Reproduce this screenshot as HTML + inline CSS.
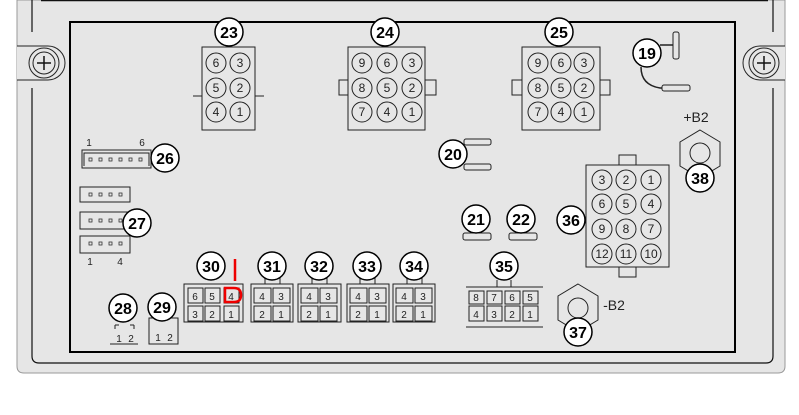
<!DOCTYPE html>
<html><head><meta charset="utf-8"><style>html,body{margin:0;padding:0;background:#fff}svg{display:block}text{font-family:"Liberation Sans",sans-serif}</style></head><body>
<svg width="799" height="415" viewBox="0 0 799 415" xmlns="http://www.w3.org/2000/svg">
<defs>
<g id="pin"><circle r="10" fill="none" stroke="#222" stroke-width="1"/></g>
<rect id="dot" width="3" height="3" fill="none" stroke="#333" stroke-width="0.8"/>
</defs>
<path d="M17 0 H785 V366 Q785 373 778 373 H24 Q17 373 17 366 Z" fill="#e6e6e6" stroke="#999" stroke-width="1"/>
<line x1="41" y1="0.5" x2="768" y2="0.5" stroke="#111" stroke-width="1.5"/>
<path d="M32 0 V32 M32 88 V356 Q32 363 39 363 H766 Q773 363 773 356 V88 M773 32 V0" fill="none" stroke="#111" stroke-width="1.2"/>
<path d="M17 46 H48 A17 17 0 0 1 48 80 H17" fill="#e6e6e6" stroke="#222"/>
<circle cx="44" cy="63" r="15" fill="none" stroke="#222"/><circle cx="44" cy="63" r="11" fill="none" stroke="#222"/>
<path d="M37 63 H51 M44 56 V70" stroke="#111" stroke-width="1.5"/>
<path d="M785 46 H760 A17 17 0 0 0 760 80 H785" fill="#e6e6e6" stroke="#222"/>
<circle cx="764" cy="63" r="15" fill="none" stroke="#222"/><circle cx="764" cy="63" r="11" fill="none" stroke="#222"/>
<path d="M757 63 H771 M764 56 V70" stroke="#111" stroke-width="1.5"/>
<rect x="70" y="22" width="665" height="330" fill="#e6e6e6" stroke="#000" stroke-width="2"/>

<g fill="none" stroke="#222" stroke-width="1">
<rect x="202" y="47" width="53" height="83"/>
<path d="M193 96 H202 M255 96 H264"/>
<rect x="348" y="47" width="77" height="83"/>
<rect x="339" y="80" width="9" height="15"/><rect x="425" y="80" width="11" height="15"/>
<rect x="522" y="47" width="78" height="83"/>
<rect x="512" y="80" width="10" height="15"/><rect x="600" y="80" width="10" height="15"/>
<rect x="586" y="165" width="83" height="102"/>
<rect x="619" y="155" width="17" height="10"/><rect x="619" y="267" width="17" height="10"/>
<polygon points="700,130 720,142 720,166 700,178 680,166 680,142"/><circle cx="700" cy="153" r="10"/>
<polygon points="578,284 598,296 598,320 578,332 558,320 558,296"/><circle cx="578" cy="308" r="10"/>
<rect x="82" y="150" width="69" height="18"/><path d="M84 166 V153 H149 V166"/>
<rect x="80" y="187" width="50" height="15"/><rect x="80" y="212" width="50" height="17"/><rect x="80" y="236" width="50" height="17"/>
<rect x="464" y="139" width="27" height="6" rx="2"/><rect x="464" y="164" width="27" height="6" rx="2"/>
<rect x="463" y="233" width="28" height="7" rx="2"/><rect x="509" y="233" width="28" height="7" rx="2"/>
<rect x="673" y="32" width="6" height="27" rx="2"/><rect x="662" y="85" width="28" height="6" rx="2"/>
<path d="M660 45 H673 M641 67 Q641 85 660 88 H662" stroke-width="1.5"/>
<rect x="184" y="284" width="59" height="38"/>
<rect x="188" y="288" width="15" height="15"/><rect x="205" y="288" width="15" height="15"/><rect x="224" y="288" width="15" height="15"/>
<rect x="188" y="306" width="15" height="15"/><rect x="205" y="306" width="15" height="15"/><rect x="224" y="306" width="15" height="15"/>
<rect x="251" y="284" width="42" height="38"/><rect x="298" y="284" width="43" height="38"/><rect x="347" y="284" width="42" height="38"/><rect x="393" y="284" width="42" height="38"/>
<path d="M254 288h17v15h-17z M273 288h17v15h-17z M254 306h17v15h-17z M273 306h17v15h-17z"/>
<path d="M301 288h17v15h-17z M320 288h17v15h-17z M301 306h17v15h-17z M320 306h17v15h-17z"/>
<path d="M350 288h17v15h-17z M369 288h17v15h-17z M350 306h17v15h-17z M369 306h17v15h-17z"/>
<path d="M396 288h17v15h-17z M415 288h17v15h-17z M396 306h17v15h-17z M415 306h17v15h-17z"/>
<path d="M265 278v6 M280 278v6 M312 278v6 M327 278v6 M360 278v6 M375 278v6 M407 278v6 M422 278v6"/>
<path d="M466 287 H543 M466 327 H543"/>
<path d="M469 291h15v13h-15z M487 291h15v13h-15z M505 291h15v13h-15z M523 291h15v13h-15z M469 306h15v15h-15z M487 306h15v15h-15z M505 306h15v15h-15z M523 306h15v15h-15z"/>
<path d="M497 280v7 M511 280v7"/>
<path d="M110 344 H138 M115 325 v4 M115 325 h4 M130 325 h4 M134 325 v4"/>
<rect x="149" y="318" width="29" height="26"/>
</g>
<g>
<use href="#dot" x="89" y="158"/><use href="#dot" x="99" y="158"/><use href="#dot" x="109" y="158"/><use href="#dot" x="119" y="158"/><use href="#dot" x="129" y="158"/><use href="#dot" x="139" y="158"/>
<use href="#dot" x="89" y="193"/><use href="#dot" x="99" y="193"/><use href="#dot" x="109" y="193"/><use href="#dot" x="119" y="193"/>
<use href="#dot" x="89" y="219"/><use href="#dot" x="99" y="219"/><use href="#dot" x="109" y="219"/><use href="#dot" x="119" y="219"/>
<use href="#dot" x="89" y="242"/><use href="#dot" x="99" y="242"/><use href="#dot" x="109" y="242"/><use href="#dot" x="119" y="242"/>
</g>
<g>
<use href="#pin" x="216" y="63"/><use href="#pin" x="240" y="63"/><use href="#pin" x="216" y="88"/><use href="#pin" x="240" y="88"/><use href="#pin" x="216" y="112"/><use href="#pin" x="240" y="112"/>
<use href="#pin" x="362" y="63"/><use href="#pin" x="387" y="63"/><use href="#pin" x="412" y="63"/><use href="#pin" x="362" y="88"/><use href="#pin" x="387" y="88"/><use href="#pin" x="412" y="88"/><use href="#pin" x="362" y="112"/><use href="#pin" x="387" y="112"/><use href="#pin" x="412" y="112"/>
<use href="#pin" x="538" y="63"/><use href="#pin" x="561" y="63"/><use href="#pin" x="584" y="63"/><use href="#pin" x="538" y="88"/><use href="#pin" x="561" y="88"/><use href="#pin" x="584" y="88"/><use href="#pin" x="538" y="112"/><use href="#pin" x="561" y="112"/><use href="#pin" x="584" y="112"/>
<use href="#pin" x="602" y="180"/><use href="#pin" x="626" y="180"/><use href="#pin" x="651" y="180"/><use href="#pin" x="602" y="204"/><use href="#pin" x="626" y="204"/><use href="#pin" x="651" y="204"/><use href="#pin" x="602" y="229"/><use href="#pin" x="626" y="229"/><use href="#pin" x="651" y="229"/><use href="#pin" x="602" y="254"/><use href="#pin" x="626" y="254"/><use href="#pin" x="651" y="254"/>
</g>
<g font-size="12" fill="#222" text-anchor="middle">
<text x="216" y="67">6</text><text x="240" y="67">3</text><text x="216" y="92">5</text><text x="240" y="92">2</text><text x="216" y="116">4</text><text x="240" y="116">1</text>
<text x="362" y="67">9</text><text x="387" y="67">6</text><text x="412" y="67">3</text><text x="362" y="92">8</text><text x="387" y="92">5</text><text x="412" y="92">2</text><text x="362" y="116">7</text><text x="387" y="116">4</text><text x="412" y="116">1</text>
<text x="538" y="67">9</text><text x="561" y="67">6</text><text x="584" y="67">3</text><text x="538" y="92">8</text><text x="561" y="92">5</text><text x="584" y="92">2</text><text x="538" y="116">7</text><text x="561" y="116">4</text><text x="584" y="116">1</text>
<text x="602" y="184">3</text><text x="626" y="184">2</text><text x="651" y="184">1</text><text x="602" y="208">6</text><text x="626" y="208">5</text><text x="651" y="208">4</text><text x="602" y="233">9</text><text x="626" y="233">8</text><text x="651" y="233">7</text><text x="602" y="258">12</text><text x="626" y="258">11</text><text x="651" y="258">10</text>
</g>
<g font-size="10" fill="#222" text-anchor="middle">
<text x="195" y="300">6</text><text x="212" y="300">5</text><text x="231" y="300">4</text><text x="195" y="318">3</text><text x="212" y="318">2</text><text x="231" y="318">1</text>
<text x="262" y="300">4</text><text x="281" y="300">3</text><text x="262" y="318">2</text><text x="281" y="318">1</text>
<text x="309" y="300">4</text><text x="328" y="300">3</text><text x="309" y="318">2</text><text x="328" y="318">1</text>
<text x="358" y="300">4</text><text x="377" y="300">3</text><text x="358" y="318">2</text><text x="377" y="318">1</text>
<text x="404" y="300">4</text><text x="423" y="300">3</text><text x="404" y="318">2</text><text x="423" y="318">1</text>
<text x="476" y="301">8</text><text x="494" y="301">7</text><text x="512" y="301">6</text><text x="530" y="301">5</text>
<text x="476" y="318">4</text><text x="494" y="318">3</text><text x="512" y="318">2</text><text x="530" y="318">1</text>
<text x="119" y="342">1</text><text x="131" y="342">2</text><text x="158" y="341">1</text><text x="170" y="341">2</text>
<text x="89" y="146">1</text><text x="142" y="146">6</text><text x="90" y="265">1</text><text x="120" y="265">4</text>
</g>
<text x="696" y="122" font-size="14" fill="#222" text-anchor="middle">+B2</text>
<text x="614" y="310" font-size="14" fill="#222" text-anchor="middle">-B2</text>
<g font-size="16" font-weight="bold" text-anchor="middle" fill="#000">
<g stroke="#000" stroke-width="1.5" fill="#fff">
<circle cx="229" cy="32" r="14"/><circle cx="385" cy="32" r="14"/><circle cx="559" cy="32" r="14"/><circle cx="647" cy="53" r="14"/><circle cx="453" cy="154" r="14"/><circle cx="165" cy="158" r="14"/><circle cx="137" cy="223" r="14"/><circle cx="476" cy="219" r="14"/><circle cx="521" cy="219" r="14"/><circle cx="571" cy="220" r="14"/><circle cx="700" cy="178" r="14"/><circle cx="578" cy="332" r="14"/><circle cx="504" cy="266" r="14"/><circle cx="211" cy="266" r="14"/><circle cx="272" cy="266" r="14"/><circle cx="319" cy="266" r="14"/><circle cx="367" cy="266" r="14"/><circle cx="414" cy="266" r="14"/><circle cx="123" cy="308" r="14"/><circle cx="162" cy="307" r="14"/>
</g>
<text x="229" y="38">23</text><text x="385" y="38">24</text><text x="559" y="38">25</text><text x="647" y="59">19</text><text x="453" y="160">20</text><text x="165" y="164">26</text><text x="137" y="229">27</text><text x="476" y="225">21</text><text x="521" y="225">22</text><text x="571" y="226">36</text><text x="700" y="184">38</text><text x="578" y="338">37</text><text x="504" y="272">35</text><text x="211" y="272">30</text><text x="272" y="272">31</text><text x="319" y="272">32</text><text x="367" y="272">33</text><text x="414" y="272">34</text><text x="123" y="314">28</text><text x="162" y="313">29</text>
</g>
<path d="M235 259 V281 M225 288 H234 Q241 288 241 295 Q241 302 234 302 H225 Z" fill="none" stroke="#e00" stroke-width="2.5"/>
</svg>
</body></html>
